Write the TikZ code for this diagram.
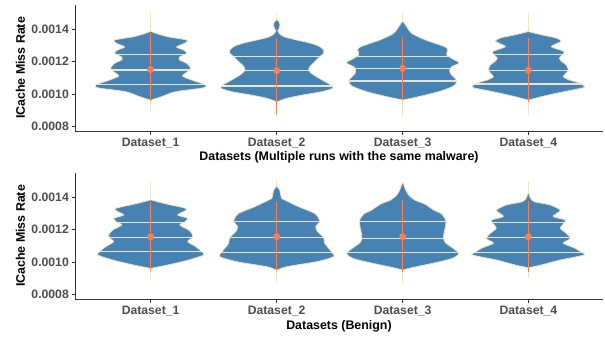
\documentclass[tikz,border=0pt]{standalone}
\usepackage{fontspec}
\setmainfont{Liberation Sans}
\definecolor{vblue}{RGB}{70,130,180}
\definecolor{vcream}{RGB}{238,230,190}
\definecolor{qcol}{RGB}{232,228,205}
\definecolor{vorange}{RGB}{252,128,82}
\definecolor{axcol}{RGB}{51,51,51}
\definecolor{tickcol}{RGB}{77,77,77}
\tikzset{
 violinfill/.style={fill=vblue},
 violinout/.style={draw=vcream,line width=0.8pt},
 qline/.style={draw=qcol,line width=1.2pt},
 thinline/.style={draw=vcream,line width=0.9pt},
 orline/.style={draw=vorange,line width=1.3pt},
 ordot/.style={fill=vorange},
 axisline/.style={draw=axcol,line width=1pt},
 tickmark/.style={draw=axcol,line width=0.8pt},
 ticklabel/.style={text=tickcol,font=\fontsize{12.2}{14}\selectfont\bfseries,inner sep=0pt},
 axtitle/.style={text=black,font=\fontsize{12.4}{14}\selectfont\bfseries,inner sep=0pt},
}
% #1 cx, #2 dy, #3 profile, #4 quantiles, #5/#6 orange range, #7 dot, #8/#9 thin range
\newcommand\violin[9]{%
\begin{scope}[shift={(#1,#2)}]
\path[thinline] (0,#8) -- (0,#9);
\gdef\rpts{}\gdef\lpts{}%
\foreach \yy/\hh in {#3}{\xdef\rpts{\rpts(\hh,\yy)}\xdef\lpts{(-\hh,\yy)\lpts}}%
\edef\vtmp{\noexpand\path[violinfill] plot[smooth cycle,tension=0.45] coordinates {\rpts\lpts};}\vtmp
\begin{scope}
\edef\vtmp{\noexpand\clip plot[smooth cycle,tension=0.45] coordinates {\rpts\lpts};}\vtmp
\foreach \q in {#4}{\path[qline] (-80,\q) -- (80,\q);}
\end{scope}
\edef\vtmp{\noexpand\path[violinout] plot[smooth cycle,tension=0.45] coordinates {\rpts\lpts};}\vtmp
\path[orline] (0,#5) -- (0,#6);
\path[ordot] (0,#7) circle (3.5);
\end{scope}}
% #1 dy, #2 title, #3 suffix
\newcommand\panelaxes[3]{%
\path[axisline] (75,{5.5+#1}) -- (75,{131.7+#1}) -- (603,{131.7+#1});
\foreach \v/\yy in {0.0014/29,0.0012/61.5,0.0010/94,0.0008/126.5}{%
  \path[tickmark] (71.5,{\yy+#1}) -- (75,{\yy+#1});
  \node[ticklabel,anchor=east] (yt\v#3) at (69,{\yy+#1}) {\v};}
\foreach \i/\xx in {1/150.6,2/276.6,3/402.6,4/528.4}{%
  \path[tickmark] (\xx,{131.7+#1}) -- (\xx,{135.2+#1});
  \node[ticklabel,anchor=base] (xt\i#3) at (\xx,{146.5+#1}) {Dataset\_\i};}
\node[axtitle,anchor=base] (xtitle#3) at (339,{161+#1}) {#2};
\node[axtitle,rotate=90] (ytitle#3) at (20.5,{68+#1}) {ICache Miss Rate};
}
\begin{document}
\begin{tikzpicture}[x=1pt,y=-1pt]
\useasboundingbox (0,0) rectangle (605,339);
\panelaxes{0}{Datasets (Multiple runs with the same malware)}{a}
\panelaxes{168}{Datasets (Benign)}{b}
% top panel
\violin{150.6}{0}{31.5/0.5, 33.3/5, 36.7/17, 40/36, 43.3/34, 47/26, 50/33, 53.3/36, 57/29, 60/29, 63.3/36, 68/40, 71.7/37, 76/32, 80/41, 85/55, 88/52, 91.7/25, 96.7/11, 100/0.5}{54.3,70,84.5}{33}{101.5}{69.5}{12.5}{111}
\violin{276.8}{0}{20/0.5, 22/2.5, 25/3.2, 28/2.5, 31/1, 34/3, 37/8, 40/20, 43/33, 46/42, 50/47, 53.3/47, 56.7/43, 61.7/38, 66.7/33, 70.7/32, 75/37, 81/47, 85/54, 88.3/56, 91.7/45, 95/26, 98.3/10, 101.7/0.5}{56.7,70.7,86}{38.3}{114}{70.7}{13}{117}
\violin{402.7}{0}{21.7/0.5, 26.7/4, 33.3/9, 40/23, 46.7/42, 50/45, 55/44, 60/52, 62/56, 64/55, 66.7/49, 70/47, 74/48, 78/52, 81/54, 84/53, 87/49, 91.7/36, 96.7/16, 100/0.5}{56.7,68.3,81}{36.7}{100}{68.3}{13}{117}
\violin{528.3}{0}{31.7/0.5, 35/14, 38/28, 41/33, 43.3/29, 46.7/23, 50/32, 52/36, 55/34, 58.3/31, 62/34, 65/38, 70/40, 73/38, 76.7/35, 80/41, 83.3/52, 87.3/56, 90/44, 93.3/28, 97/12, 100/0.5}{54.3,70.3,84}{38.3}{101.7}{70.3}{12.7}{115}
% bottom panel
\violin{150.7}{168}{32/0.5, 35.3/13, 40.3/35, 43/34, 47/27, 50.3/37, 54/34, 57/29, 62/38, 67/42, 70/41, 73.7/37, 78.7/45, 83.7/51, 87/53, 92/38, 97/17, 100.3/0.5}{54.3,69.7,83.7}{33.7}{102}{68.7}{13.7}{110.3}
\violin{276.7}{168}{18.7/0.5, 22/3, 27/4, 30.3/5, 32/8, 38.7/22, 45.3/38, 50.3/42, 53.7/43, 58.7/39, 63.7/41, 69.7/47, 75.3/48, 80.3/52, 84.3/55, 88.7/57, 93.7/40, 98.7/10, 102/0.5}{53.7,69.7,84.3}{33.7}{102}{68.7}{12}{115.3}
\violin{402.7}{168}{15.3/0.5, 22/3, 27/6, 32/12, 36/22, 42/31, 46/39, 52/43, 57/43, 62/42, 67/41, 71/41, 75/43, 80/50, 85/56, 88/54, 91/48, 95.3/30, 100/8, 102/0.5}{53.7,70.3,84.7}{32}{103.7}{68.7}{13.7}{115.3}
\violin{528.3}{168}{25.3/0.5, 30/2, 33.7/6, 37/22, 42/32, 45/29, 48.7/25, 52/37, 56/35, 60.3/32, 65.3/38, 69.7/42, 72/40, 75.3/35, 80.3/47, 84.3/53, 87/56, 92/32, 97/13, 99.7/0.5}{54.3,69.7,84.3}{32.7}{103.7}{68.7}{13.7}{110.3}
\end{tikzpicture}
\end{document}
